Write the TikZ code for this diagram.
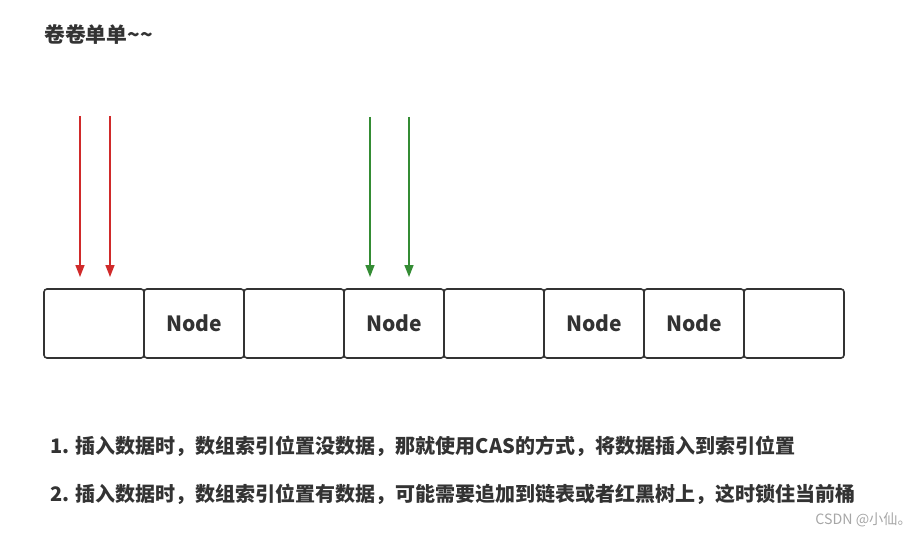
\documentclass[tikz,border=0pt]{standalone}
\usepackage{fontspec}
\setmainfont{Noto Sans CJK SC}
\usetikzlibrary{positioning,arrows.meta}
\definecolor{monRouge}{RGB}{208, 42, 42}
\definecolor{monVert}{RGB}{52, 140, 52}
\definecolor{monGris}{RGB}{51, 51, 51}
\tikzset{
  case/.style={draw=monGris, line width=0.8pt, rounded corners=1.5pt, minimum width=50pt, minimum height=34.5pt, inner sep=0pt, outer sep=0pt, font=\fontsize{10.5}{10.5}\selectfont\bfseries, text=monGris},
  fleche/.style={line width=0.75pt, -{Triangle[length=6pt,width=4.5pt]}},
  texte/.style={anchor=west, inner sep=0pt, font=\fontsize{10}{10}\selectfont\bfseries, text=monGris}
}
\begin{document}
\begin{tikzpicture}[x=0.5pt,y=-0.5pt]
        % Cadre
        \useasboundingbox (0,0) rectangle (920,535);
        
        % Titre
        \node[texte, font=\fontsize{10.4}{10.4}\selectfont\bfseries] (titre) at (44,34) {卷卷单单\textasciitilde\textasciitilde};
        
        % Le tableau
        \node[case] (b1) at (94,323.5) {};
        \node[case, right=0pt of b1] (b2) {Node};
        \node[case, right=0pt of b2] (b3) {};
        \node[case, right=0pt of b3] (b4) {Node};
        \node[case, right=0pt of b4] (b5) {};
        \node[case, right=0pt of b5] (b6) {Node};
        \node[case, right=0pt of b6] (b7) {Node};
        \node[case, right=0pt of b7] (b8) {};
        
        % Points des fleches
        \coordinate (r1h) at (80,116);
        \coordinate (r1b) at (80,277);
        \coordinate (r2h) at (110,116);
        \coordinate (r2b) at (110,277);
        \coordinate (v1h) at (370,117);
        \coordinate (v1b) at (370,277);
        \coordinate (v2h) at (409,117);
        \coordinate (v2b) at (409,277);
        
        % Fleches rouges et vertes
        \draw[fleche, monRouge] (r1h) -- (r1b);
        \draw[fleche, monRouge] (r2h) -- (r2b);
        \draw[fleche, monVert] (v1h) -- (v1b);
        \draw[fleche, monVert] (v2h) -- (v2b);
        
        % Explications
        \node[texte] (ligne1) at (50,446) {1. 插入数据时，数组索引位置没数据，那就使用CAS的方式，将数据插入到索引位置};
        \node[texte] (ligne2) at (50,494) {2. 插入数据时，数组索引位置有数据，可能需要追加到链表或者红黑树上，这时锁住当前桶};
        
        % Signature
        \node[anchor=west, inner sep=0pt, font=\fontsize{7.1}{7.1}\selectfont, text=gray!70] (sig) at (815,520) {CSDN @小仙。};
    \end{tikzpicture}
\end{document}
